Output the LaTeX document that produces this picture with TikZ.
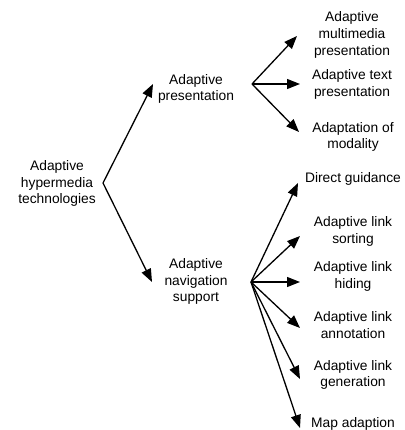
\documentclass[tikz,border=0pt]{standalone}
\usepackage{fontspec}
\setmainfont{Liberation Sans}
\usetikzlibrary{arrows.meta}
\begin{document}
\begin{tikzpicture}[x=1pt,y=-1pt,
  lbl/.style={align=center,inner sep=0pt,font=\fontsize{13.8}{16.6}\selectfont},
  arr/.style={line width=1.3pt,-{Triangle[length=13pt,width=10pt]}}]
\useasboundingbox (0,0) rectangle (404,430);
% text nodes
\node[lbl] (root) at (57,183.5) {Adaptive\\hypermedia\\technologies};
\node[lbl] (pres) at (196,89) {Adaptive\\presentation};
\node[lbl] (nav) at (196,281.5) {Adaptive\\navigation\\support};
\node[lbl] (mm) at (352,35) {Adaptive\\multimedia\\presentation};
\node[lbl] (txt) at (352,84.5) {Adaptive text\\presentation};
\node[lbl] (mod) at (353,137) {Adaptation of\\modality};
\node[lbl] (dg) at (353,178.5) {Direct guidance};
\node[lbl] (sort) at (353,231.5) {Adaptive link\\sorting};
\node[lbl] (hid) at (353,276.5) {Adaptive link\\hiding};
\node[lbl] (ann) at (353,325) {Adaptive link\\annotation};
\node[lbl] (gen) at (353,375) {Adaptive link\\generation};
\node[lbl] (map) at (353,423.5) {Map adaption};
% branch points and arrow tips
\coordinate (rv) at (103,183);
\coordinate (pv) at (252,84);
\coordinate (nv) at (251,282);
\coordinate (tpres) at (153,84);
\coordinate (tnav) at (152,282);
\coordinate (tmm) at (297,36);
\coordinate (ttxt) at (300,84);
\coordinate (tmod) at (299,132);
\coordinate (tdg) at (298,183);
\coordinate (tsort) at (300,236);
\coordinate (thid) at (300,282);
\coordinate (tann) at (300,328);
\coordinate (tgen) at (300,379);
\coordinate (tmap) at (300,428);
% connectors
\draw[arr] (rv) -- (tpres);
\draw[arr] (rv) -- (tnav);
\draw[arr] (pv) -- (tmm);
\draw[arr] (pv) -- (ttxt);
\draw[arr] (pv) -- (tmod);
\foreach \t in {tdg,tsort,thid,tann,tgen,tmap}
  \draw[arr] (nv) -- (\t);
\end{tikzpicture}
\end{document}
